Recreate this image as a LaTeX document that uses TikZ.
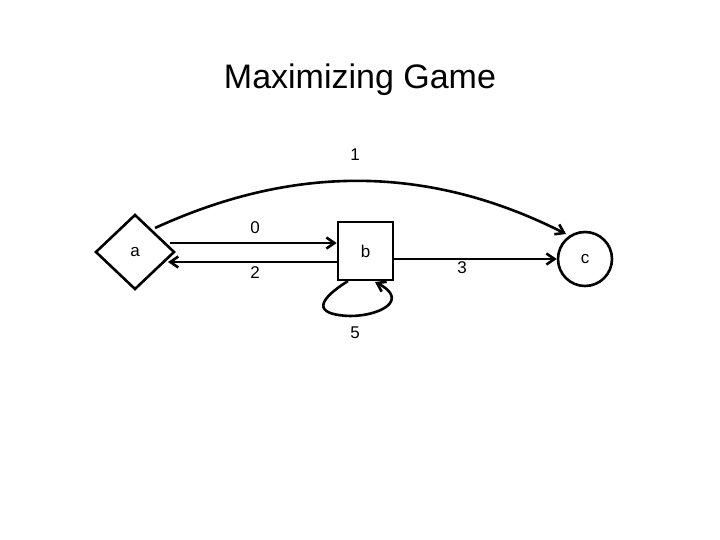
\documentclass[tikz,border=0pt]{standalone}
\usepackage{fontspec}
\setmainfont{Liberation Sans}
\usetikzlibrary{arrows.meta}
\begin{document}
\begin{tikzpicture}[x=1pt,y=-1pt,
  edge/.style={line width=2.6pt,-{Straight Barb[length=8pt,width=11pt]}},
  lbl/.style={font=\fontsize{17}{17}\selectfont}]
\useasboundingbox (0,0) rectangle (720,540);
\node[font=\fontsize{34}{34}\selectfont] (title) at (360,80) {Maximizing Game};
\draw[line width=2.6pt] (96,252) -- (135,215) -- (174,252) -- (135,289) -- cycle;
\node[lbl] (a) at (135,252) {a};
\coordinate (aE) at (174,252);
\node[draw,line width=2.6pt,minimum width=55pt,minimum height=58pt,lbl] (b) at (365.5,251) {b};
\node[draw,circle,line width=2.6pt,minimum size=54pt,lbl] (c) at (585,259) {c};
\coordinate (a1) at (170,243);
\coordinate (a2) at (168,262);
\coordinate (aT) at (155,228);
\coordinate (cT) at (566,234);
\draw[edge] (a1) -- (b.west |- a1);
\draw[edge] (b.west |- a2) -- (a2);
\draw[edge] (b.east |- c) -- (c.west);
\draw[edge] (aT) .. controls (260,180) and (400,150) .. (cT);
\coordinate (l1) at (348,281);
\coordinate (l2) at (375,282);
\draw[edge] (l1) .. controls (310,305) and (320,315) .. (350,316) .. controls (380,316) and (410,300) .. (l2);
\node[lbl] (n0) at (255,228) {0};
\node[lbl] (n2) at (255,273) {2};
\node[lbl] (n3) at (462,268) {3};
\node[lbl] (n1) at (355,155) {1};
\node[lbl] (n5) at (355,333) {5};
\end{tikzpicture}
\end{document}
